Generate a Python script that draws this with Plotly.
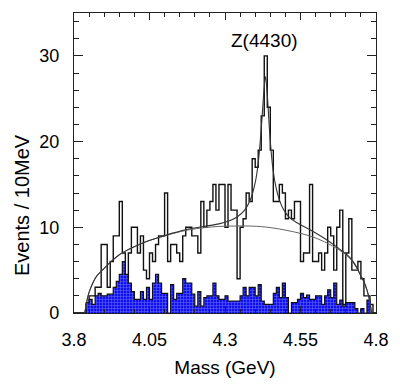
import numpy as np
import plotly.graph_objects as go

# ---- data ----
BIN_START = 3.80
BIN_WIDTH = 0.01  # 10 MeV bins

total_counts = [
    0, 0, 0, 0, 1, 2, 2, 3, 3, 8,
    8, 3, 6, 9, 9, 13, 7, 4, 7, 10,
    10, 7, 9, 5, 4, 7, 6, 8, 9, 9,
    14, 6, 8, 8, 7, 6, 9, 10, 10, 9,
    9, 7, 13, 10, 12, 13, 15, 12, 15, 15,
    10, 15, 12, 12, 4, 10, 11, 14, 13, 18,
    17, 19, 23, 30, 24, 19, 13, 13, 15, 14,
    11, 12, 11, 13, 13, 6, 7, 7, 15, 6,
    6, 7, 5, 7, 10, 9, 5, 10, 12, 1,
    7, 11, 5, 5, 6, 4, 2, 2, 1, 0,
]

background_counts = [
    0, 0, 0, 0, 1.2, 1.6, 1.0, 2.0, 2.3, 2.0,
    2.0, 2.2, 2.2, 3.0, 3.7, 4.5, 6.0, 4.5, 3.5, 2.5,
    1.6, 1.6, 2.5, 1.6, 3.0, 1.6, 3.5, 4.5, 3.5, 2.3,
    2.3, 0, 3.3, 1.6, 2.3, 2.3, 4.0, 3.5, 3.5, 2.2,
    0.8, 2.5, 0.8, 1.8, 2.0, 2.0, 3.5, 2.0, 1.6, 1.6,
    2.0, 1.4, 1.4, 1.4, 1.4, 2.0, 3.0, 2.0, 3.0, 3.0,
    2.0, 3.3, 1.4, 1.0, 1.0, 1.0, 2.3, 3.0, 1.8, 3.5,
    1.8, 0, 1.2, 1.2, 1.6, 2.3, 1.8, 2.1, 1.6, 1.6,
    2.0, 2.0, 1.0, 2.0, 2.7, 1.8, 3.5, 1.0, 1.5, 0.8,
    1.2, 1.2, 1.2, 0.5, 0, 0.5, 0, 1.5, 0, 0,
]

# fit curves (mass, events)
bg_fit_x = [3.835, 3.84, 3.845, 3.855, 3.875, 3.90, 3.92, 3.95, 3.98, 4.03,
            4.08, 4.13, 4.18, 4.23, 4.28, 4.33, 4.38, 4.43, 4.48, 4.53,
            4.58, 4.63, 4.68, 4.71, 4.73, 4.75, 4.765, 4.775, 4.782, 4.785]
bg_fit_y = [0, 0.8, 1.8, 2.9, 4.3, 5.2, 5.9, 6.8, 7.4, 8.2,
            8.8, 9.3, 9.7, 9.95, 10.1, 10.15, 10.15, 10.05, 9.8, 9.45,
            9.0, 8.3, 7.3, 6.5, 5.6, 4.3, 3.2, 2.0, 0.8, 0]

tot_fit_x = [3.835, 3.84, 3.845, 3.855, 3.875, 3.90, 3.92, 3.95, 3.98, 4.03,
             4.08, 4.13, 4.18, 4.23, 4.28, 4.31, 4.34, 4.365, 4.385, 4.40,
             4.41, 4.42, 4.428, 4.434, 4.440, 4.448, 4.458, 4.468, 4.48, 4.495,
             4.515, 4.54, 4.58, 4.63, 4.68, 4.71, 4.73, 4.75, 4.765, 4.775,
             4.782, 4.785]
tot_fit_y = [0, 0.8, 1.8, 2.9, 4.3, 5.2, 5.9, 6.8, 7.4, 8.2,
             8.8, 9.35, 9.8, 10.1, 10.4, 10.7, 11.2, 12.0, 13.3, 15.2,
             17.5, 21.5, 25.5, 27.6, 25.5, 21.0, 17.0, 14.8, 13.2, 12.0,
             11.1, 10.5, 9.75, 8.7, 7.45, 6.6, 5.7, 4.35, 3.25, 2.05,
             0.8, 0]

x_ticks = [3.8, 4.05, 4.3, 4.55, 4.8]
x_tick_text = ["3.8", "4.05", "4.3", "4.55", "4.8"]
y_ticks = [0, 10, 20, 30]

# ---- build step outlines from the bin contents ----
edges = BIN_START + BIN_WIDTH * np.arange(len(total_counts) + 1)
tot_step = list(total_counts) + [total_counts[-1]]
bg_step = list(background_counts) + [background_counts[-1]]

FONT = "Liberation Sans, Arial, sans-serif"

fig = go.Figure()

fig.add_trace(go.Scatter(
    x=edges, y=tot_step, mode="lines", line=dict(shape="hv", color="#111", width=1.4),
    fill="tozeroy", fillcolor="white", hoverinfo="skip", showlegend=False,
))
fig.add_trace(go.Scatter(
    x=edges, y=bg_step, mode="lines", line=dict(shape="hv", color="#111", width=1.2),
    fill="tozeroy",
    fillpattern=dict(shape="+", bgcolor="#1010f0", fgcolor="#c8d0ff", size=3, solidity=0.3),
    hoverinfo="skip", showlegend=False,
))
fig.add_trace(go.Scatter(
    x=bg_fit_x, y=bg_fit_y, mode="lines", line=dict(shape="spline", color="#666", width=1),
    hoverinfo="skip", showlegend=False,
))
fig.add_trace(go.Scatter(
    x=tot_fit_x, y=tot_fit_y, mode="lines", line=dict(shape="spline", color="#333", width=1.1),
    hoverinfo="skip", showlegend=False,
))

fig.add_annotation(x=4.43, y=31.8, text="Z(4430)", showarrow=False,
                   font=dict(family=FONT, size=19, color="black"))

# y-axis title sits low along the axis in the reference
fig.add_annotation(xref="paper", yref="paper", x=-0.172, y=0.36, text="Events / 10MeV",
                   textangle=-90, showarrow=False, xanchor="center", yanchor="middle",
                   font=dict(family=FONT, size=20, color="black"))

axis_common = dict(
    showgrid=False, zeroline=False, showline=True, linecolor="#222", linewidth=1.2,
    mirror="allticks", ticks="inside", tickcolor="#222", automargin=False,
    tickfont=dict(family=FONT, size=18, color="black"),
)

fig.update_xaxes(
    range=[3.8, 4.8], tickvals=x_ticks, ticktext=x_tick_text, ticklen=7,
    minor=dict(dtick=0.05, tick0=3.8, ticks="inside", ticklen=4, tickcolor="#222"),
    title=dict(text="Mass (GeV)", font=dict(family=FONT, size=19, color="black"), standoff=11),
    ticklabelstandoff=10,
    **axis_common,
)
fig.update_yaxes(
    range=[0, 35], tickvals=y_ticks, ticklen=9,
    minor=dict(dtick=2, tick0=0, ticks="inside", ticklen=5, tickcolor="#222"),
    ticklabelstandoff=10,
    **axis_common,
)

# page body has an 8px margin, so the figure is sized/offset to compensate
fig.update_layout(
    width=392, height=376,
    margin=dict(l=66, r=24, t=5, b=70.5),
    paper_bgcolor="white", plot_bgcolor="white",
    font=dict(family=FONT),
)

fig.write_html("out.html")
